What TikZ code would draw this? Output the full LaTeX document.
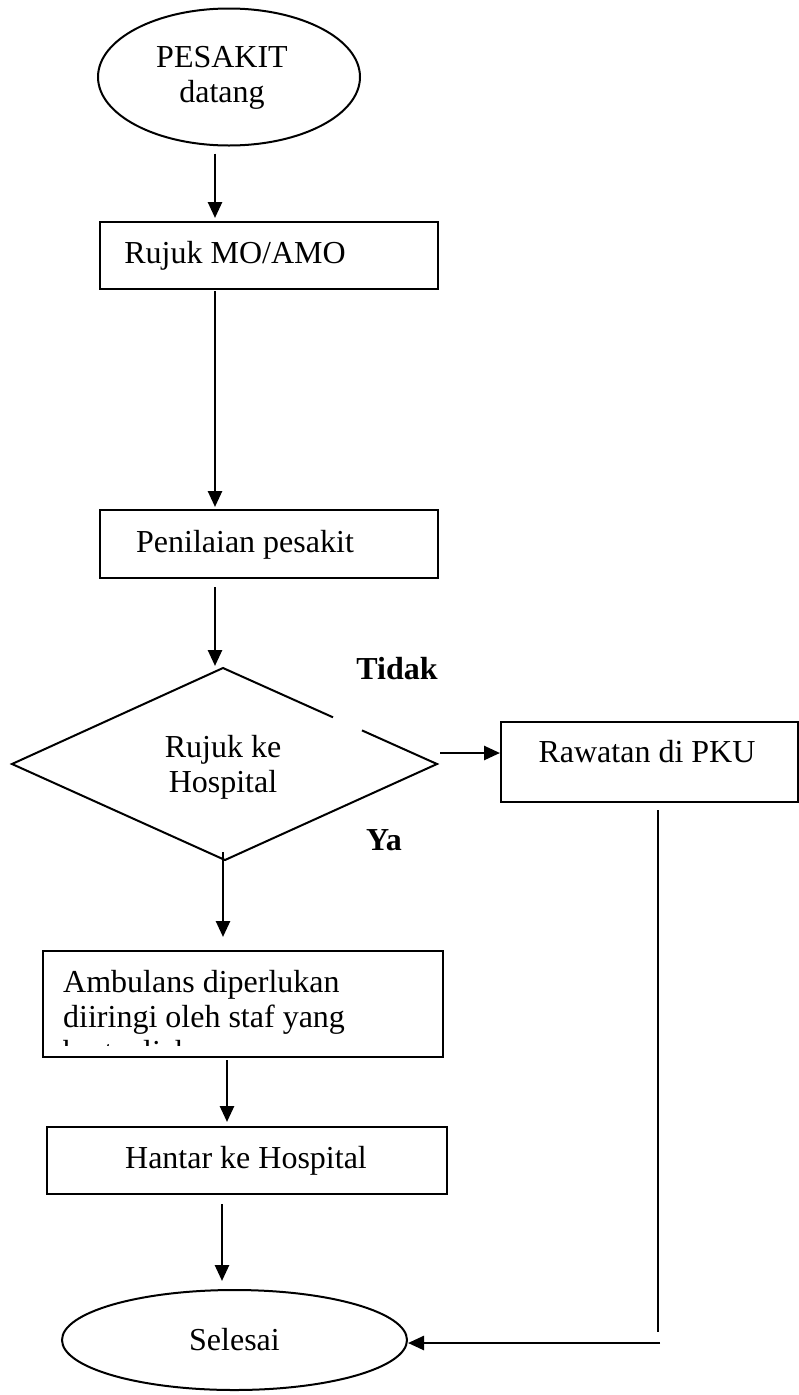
\documentclass[tikz,border=0pt]{standalone}
\usepackage{fontspec}
\setmainfont{Liberation Serif}
\usetikzlibrary{shapes.geometric,arrows.meta,calc}
\begin{document}
\begin{tikzpicture}[x=1pt,y=-1pt,
  shapeline/.style={draw,line width=2pt,inner sep=0pt},
  txt/.style={font=\fontsize{32}{35}\selectfont,inner sep=0pt},
  btxt/.style={font=\fontsize{32}{35}\selectfont\bfseries,inner sep=0pt},
  arr/.style={line width=2.6pt,-{Triangle[length=16pt,width=14pt]}},
  thinline/.style={line width=1.2pt}]
\useasboundingbox (0,0) rectangle (799,1395);

% start ellipse
\node[shapeline,ellipse,minimum width=262pt,minimum height=137pt] (start) at (229,77) {};
\node[txt,align=center] (starttxt) at (222,78) {PESAKIT\\datang};

% Rujuk MO/AMO
\node[shapeline,minimum width=338pt,minimum height=67pt] (rujuk) at (269,255.5) {};
\node[txt] (rujuktxt) at (235,255.5) {Rujuk MO/AMO};

% Penilaian pesakit
\node[shapeline,minimum width=338pt,minimum height=68pt] (nilai) at (269,544) {};
\node[txt] (nilaitxt) at (245,545) {Penilaian pesakit};

% diamond
\coordinate (dL) at (12,764);
\coordinate (dT) at (223,668);
\coordinate (dR) at (437,764);
\coordinate (dB) at (225,860);
\coordinate (g1) at (333,717.3);
\coordinate (g2) at (362,730.4);
\draw[line width=2pt] (g2) -- (dR) -- (dB) -- (dL) -- (dT) -- (g1);
\node[txt,align=center] (keputusan) at (223,767.5) {Rujuk ke\\Hospital};
\node[btxt] (tidak) at (397,669) {Tidak};
\node[btxt] (ya) at (384,840) {Ya};

% Rawatan di PKU
\node[shapeline,minimum width=297pt,minimum height=80pt] (rawatan) at (649.5,762) {};
\node[txt] (rawatantxt) at (647,752) {Rawatan di PKU};

% Ambulans
\node[shapeline,minimum width=400pt,minimum height=106pt] (ambulans) at (243,1004) {};
\begin{scope}
  \clip (45,953) rectangle (441,1045);
  \node[txt,align=left,anchor=north west] (ambtxt) at (63,970) {Ambulans diperlukan\\diiringi oleh staf yang\\bertauliah};
\end{scope}

% Hantar ke Hospital
\node[shapeline,minimum width=400pt,minimum height=67pt] (hantar) at (247,1160.5) {};
\node[txt] (hantartxt) at (246,1160.5) {Hantar ke Hospital};

% Selesai
\node[shapeline,ellipse,minimum width=345pt,minimum height=100pt,font=\fontsize{32}{35}\selectfont] (selesai) at (234.5,1340) {Selesai};

% arrow x positions
\coordinate (x1) at (215,0);
\coordinate (x2) at (223,0);
\coordinate (x3) at (227,0);
\coordinate (x4) at (222,0);

\draw[arr,shorten <=7pt,shorten >=3pt] (start.south -| x1) -- (rujuk.north -| x1);
\draw[arr,shorten <=1pt,shorten >=2pt] (rujuk.south -| x1) -- (nilai.north -| x1);
\draw[arr,shorten <=8pt,shorten >=2pt] (nilai.south -| x1) -- (dT -| x1);
\draw[arr,shorten <=-8pt,shorten >=13pt] (dB -| x2) -- (ambulans.north -| x2);
\draw[arr,shorten <=2pt,shorten >=4pt] (ambulans.south -| x3) -- (hantar.north -| x3);
\draw[arr,shorten <=9pt,shorten >=8pt] (hantar.south -| x4) -- (selesai.north -| x4);

% decision -> Rawatan
\coordinate (ra) at (440,753);
\draw[arr] (ra) -- (rawatan.west |- ra);

% Rawatan -> Selesai
\coordinate (lx) at (658,0);
\coordinate (hy) at (0,1343);
\draw[thinline,shorten <=7pt] (rawatan.south -| lx) -- (lx |- 0,1332);
\draw[arr] (660,1343) -- (selesai.east |- hy);
\end{tikzpicture}
\end{document}
